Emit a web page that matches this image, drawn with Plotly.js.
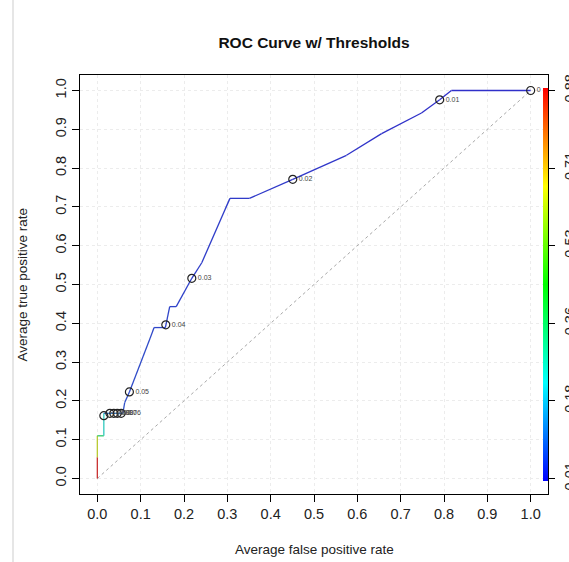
<!DOCTYPE html>
<html>
<head>
<meta charset="utf-8">
<script src="https://cdn.plot.ly/plotly-3.0.1.min.js"></script>
<style>
html,body{margin:0;padding:0;background:#fff;overflow:hidden;}
#chart{width:569px;height:562px;}
</style>
</head>
<body>
<div id="chart"></div>
<script>
// ROC curve vertices (average false / true positive rate) and the cutoff at each vertex
const fpr = [0, 0, 0, 0.015, 0.015, 0.059, 0.063, 0.074, 0.122, 0.131, 0.157, 0.167, 0.182, 0.218, 0.241, 0.306, 0.351, 0.451, 0.575, 0.656, 0.748, 0.790, 0.817, 1.0];
const tpr = [0, 0.055, 0.11, 0.11, 0.168, 0.168, 0.195, 0.223, 0.362, 0.389, 0.389, 0.443, 0.443, 0.516, 0.556, 0.722, 0.722, 0.771, 0.833, 0.889, 0.942, 0.976, 1.0, 1.0];
const cutoff = [0.88, 0.64, 0.36, 0.245, 0.11, 0.058, 0.055, 0.05, 0.045, 0.042, 0.04, 0.037, 0.035, 0.03, 0.028, 0.025, 0.024, 0.02, 0.015, 0.013, 0.011, 0.01, 0.005, 0];

// printed cutoffs
const cutLabels = ["0", "0.01", "0.02", "0.03", "0.04", "0.05", "0.06", "0.07", "0.08", "0.09", "0.1"];
const cutX = [1.0, 0.790, 0.451, 0.218, 0.158, 0.074, 0.055, 0.046, 0.038, 0.029, 0.015];
const cutY = [1.0, 0.976, 0.771, 0.516, 0.396, 0.223, 0.168, 0.168, 0.168, 0.168, 0.162];

// axes
const xTicks = [0, 0.1, 0.2, 0.3, 0.4, 0.5, 0.6, 0.7, 0.8, 0.9, 1.0];
const xTickText = ["0.0", "0.1", "0.2", "0.3", "0.4", "0.5", "0.6", "0.7", "0.8", "0.9", "1.0"];
const yTicks = xTicks;
const yTickText = xTickText;

// colour key
const keyMin = 0.01, keyMax = 0.88;
const keyTicks = [0, 0.2, 0.4, 0.6, 0.8, 1.0];
const keyTickText = ["0.01", "0.18", "0.36", "0.53", "0.71", "0.88"];
const rainbow = [[0, '#0000ff'], [0.25, '#00ffff'], [0.5, '#00ff00'], [0.75, '#ffff00'], [1, '#ff0000']];

function hex2rgb(h){return [parseInt(h.substr(1,2),16),parseInt(h.substr(3,2),16),parseInt(h.substr(5,2),16)];}
function colorAt(v){
  let f = (v - keyMin) / (keyMax - keyMin);
  f = Math.max(0, Math.min(1, f));
  for (let i = 0; i < rainbow.length - 1; i++) {
    const a = rainbow[i], b = rainbow[i+1];
    if (f <= b[0]) {
      const t = (f - a[0]) / (b[0] - a[0]);
      const ca = hex2rgb(a[1]), cb = hex2rgb(b[1]);
      // muted, as the thin curve appears in the reference
      const c = ca.map((x, k) => Math.round(0.6 * (x + (cb[k] - x) * t) + 0.4 * 120));
      return 'rgb(' + c.join(',') + ')';
    }
  }
  return rainbow[rainbow.length-1][1];
}

const FONT = '"Liberation Sans", Arial, Helvetica, sans-serif';
const traces = [];

// chance diagonal
traces.push({x: [0, 1], y: [0, 1], mode: 'lines', line: {color: '#a8a8a8', width: 1, dash: 'dot'}, hoverinfo: 'skip', showlegend: false});

// coloured ROC segments
for (let i = 0; i < fpr.length - 1; i++) {
  traces.push({
    x: [fpr[i], fpr[i+1]], y: [tpr[i], tpr[i+1]], mode: 'lines',
    line: {color: colorAt(cutoff[i]), width: 1.3},
    hoverinfo: 'skip', showlegend: false
  });
}

// cutoff markers and labels
traces.push({
  x: cutX, y: cutY, mode: 'markers+text', text: cutLabels, textposition: 'middle right',
  textfont: {family: FONT, size: 7, color: '#444'},
  marker: {symbol: 'circle-open', size: 8, color: '#222', line: {width: 1.2, color: '#222'}},
  hoverinfo: 'skip', showlegend: false
});

// colour key
traces.push({
  x: [null], y: [null], mode: 'markers', showlegend: false, hoverinfo: 'skip',
  marker: {
    color: [keyMin, keyMax], cmin: keyMin, cmax: keyMax, colorscale: rainbow, showscale: true,
    colorbar: {
      thickness: 5, thicknessmode: 'pixels', len: 0.938, lenmode: 'fraction',
      x: 0.989, xanchor: 'left', xpad: 0, y: 0.031, yanchor: 'bottom', ypad: 0,
      outlinewidth: 0, showticklabels: false, ticks: ''
    }
  }
});

// invisible trace to activate the right axis
traces.push({x: [null], y: [null], yaxis: 'y2', mode: 'markers', showlegend: false, hoverinfo: 'skip'});

const axisFont = {family: FONT, size: 14.5, color: '#222'};

const layout = {
  width: 569, height: 562,
  margin: {l: 80, r: 21, t: 75, b: 68},
  paper_bgcolor: '#fff', plot_bgcolor: '#fff',
  font: {family: FONT},
  title: {text: '<b>ROC Curve w/ Thresholds</b>', font: {family: FONT, size: 15.5, color: '#111'},
          x: 0.5, xref: 'paper', y: 1 - 43/562, yref: 'container', yanchor: 'middle'},
  xaxis: {
    range: [-0.04, 1.04], tickmode: 'array', tickvals: xTicks, ticktext: xTickText,
    ticks: 'outside', ticklen: 7, tickcolor: '#000', tickwidth: 1, tickfont: axisFont,
    showline: true, mirror: true, linecolor: '#000', linewidth: 1,
    showgrid: true, gridcolor: '#ececec', griddash: 'dot', gridwidth: 1, zeroline: false
  },
  yaxis: {
    range: [-0.04, 1.04], tickmode: 'array', tickvals: yTicks, ticktext: yTickText,
    ticks: 'outside', ticklen: 7, tickcolor: '#000', tickwidth: 1, tickfont: axisFont, tickangle: -90,
    showline: true, mirror: true, linecolor: '#000', linewidth: 1,
    showgrid: true, gridcolor: '#ececec', griddash: 'dot', gridwidth: 1, zeroline: false
  },
  yaxis2: {
    overlaying: 'y', side: 'right', anchor: 'x', range: [-0.04, 1.04],
    tickmode: 'array', tickvals: keyTicks, ticktext: keyTickText, tickangle: -90,
    ticks: 'outside', ticklen: 6, tickcolor: '#000', tickwidth: 1, tickfont: axisFont,
    ticklabelstandoff: 3,
    showline: false, showgrid: false, zeroline: false
  },
  annotations: [
    {text: 'Average false positive rate', xref: 'paper', yref: 'paper', x: 0.5, y: (494-549)/419,
     xanchor: 'center', yanchor: 'middle', showarrow: false, font: {family: FONT, size: 13.5, color: '#222'}},
    {text: 'Average true positive rate', xref: 'paper', yref: 'paper', x: (22-80)/468, y: 0.5,
     xanchor: 'center', yanchor: 'middle', textangle: -90, showarrow: false, font: {family: FONT, size: 13.5, color: '#222'}}
  ],
  shapes: [
    {type: 'line', xref: 'paper', yref: 'paper', x0: (13-80)/468, x1: (13-80)/468, y0: -68/419, y1: 494/419,
     line: {color: '#dedede', width: 1.5}}
  ]
};

Plotly.newPlot('chart', traces, layout, {displayModeBar: false, staticPlot: true});
</script>
</body>
</html>
